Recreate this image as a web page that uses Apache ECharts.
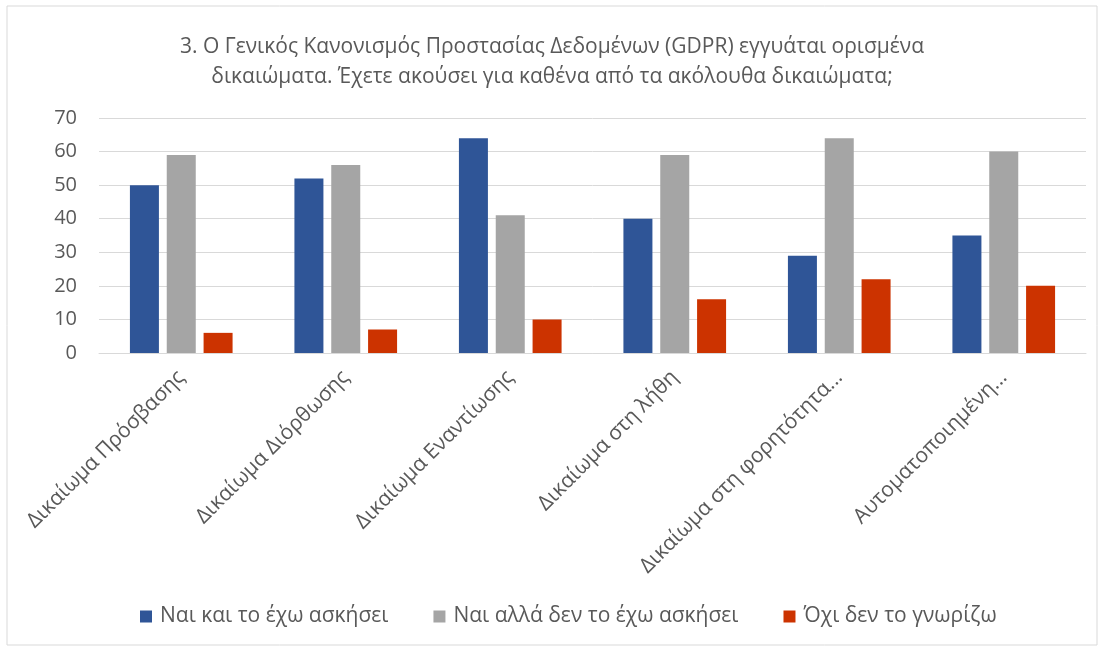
<!DOCTYPE html>
<html>
<head>
    <meta charset="utf-8">
    <title>GDPR δικαιώματα</title>
    <script src="https://cdn.jsdelivr.net/npm/echarts@6/dist/echarts.min.js"></script>
    <style>
        html, body { margin: 0; padding: 0; background: #fff; }
        #main { width: 1104px; height: 648px; }
    </style>
</head>
<body>
<div id="main"></div>
<script type="text/javascript">
    // κατηγορίες και τιμές
    var categories = ['Δικαίωμα Πρόσβασης', 'Δικαίωμα Διόρθωσης', 'Δικαίωμα Εναντίωσης',
        'Δικαίωμα στη λήθη', 'Δικαίωμα στη φορητότητα...', 'Αυτοματοποιημένη...'];
    var seriesNames = ['Ναι και το έχω ασκήσει', 'Ναι αλλά δεν το έχω ασκήσει', 'Όχι δεν το γνωρίζω'];
    var exercised = [50, 52, 64, 40, 29, 35];
    var notExercised = [59, 56, 41, 59, 64, 60];
    var unknown = [6, 7, 10, 16, 22, 20];
    var yTicks = [0, 10, 20, 30, 40, 50, 60, 70];

    var colors = ['#2F5597', '#A5A5A5', '#CC3300'];
    var font = 'Open Sans';

    var myChart = echarts.init(document.getElementById('main'));

    var option = {
        color: colors,
        title: {
            text: '3. Ο Γενικός Κανονισμός Προστασίας Δεδομένων (GDPR) εγγυάται ορισμένα\nδικαιώματα. Έχετε ακούσει για καθένα από τα ακόλουθα δικαιώματα;',
            left: 'center',
            top: 27,
            textStyle: {
                fontFamily: font,
                fontSize: 21,
                fontWeight: 'normal',
                color: '#595959',
                lineHeight: 30
            }
        },
        graphic: [{
            type: 'rect',
            shape: {x: 7, y: 6, width: 1090, height: 639},
            style: {fill: 'none', stroke: '#D9D9D9', lineWidth: 1},
            silent: true
        }],
        legend: {
            data: seriesNames,
            top: 601,
            left: 135,
            itemWidth: 12,
            itemHeight: 12,
            itemGap: 45,
            icon: 'rect',
            textStyle: {fontFamily: font, fontSize: 21, color: '#595959', padding: [0, 0, 0, 3]}
        },
        grid: {
            left: 99,
            right: 18,
            top: 118,
            bottom: 295,
            containLabel: false
        },
        xAxis: {
            type: 'category',
            data: categories,
            axisTick: {show: false},
            axisLine: {lineStyle: {color: '#D9D9D9', width: 1}},
            axisLabel: {
                rotate: 45,
                interval: 0,
                margin: 21,
                fontFamily: font,
                fontSize: 21,
                color: '#595959'
            }
        },
        yAxis: {
            type: 'value',
            min: yTicks[0],
            max: yTicks[yTicks.length - 1],
            interval: yTicks[1] - yTicks[0],
            axisLine: {show: false},
            axisTick: {show: false},
            splitLine: {lineStyle: {color: '#D9D9D9', width: 1}},
            axisLabel: {
                margin: 22,
                fontFamily: font,
                fontSize: 20,
                color: '#595959'
            }
        },
        series: [{
            name: seriesNames[0],
            type: 'bar',
            data: exercised,
            barWidth: 29,
            barGap: '27%'
        }, {
            name: seriesNames[1],
            type: 'bar',
            data: notExercised,
            barWidth: 29,
            barGap: '27%'
        }, {
            name: seriesNames[2],
            type: 'bar',
            data: unknown,
            barWidth: 29,
            barGap: '27%'
        }]
    };
    myChart.setOption(option);
</script>
</body>
</html>
